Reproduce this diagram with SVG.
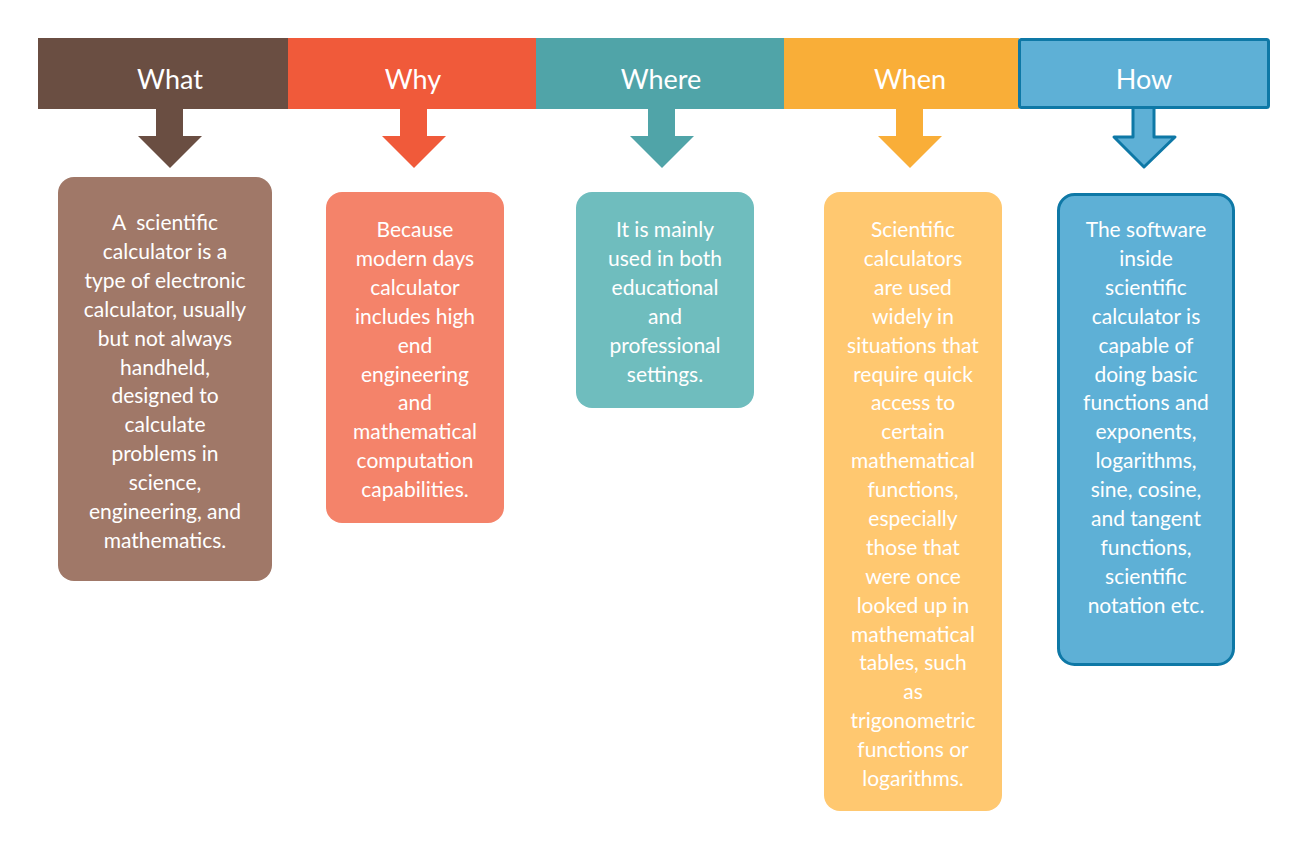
<svg xmlns="http://www.w3.org/2000/svg" width="1308" height="850" viewBox="0 0 1308 850">
<style>
.h{font-family:Lato,"Open Sans",sans-serif;font-size:27px;fill:#fff;text-anchor:middle}
.t{font-family:Lato,"Open Sans",sans-serif;font-size:21px;fill:#fff;text-anchor:middle}
</style>
<rect width="1308" height="850" fill="#fff"/>
<g id="connectors">
<path d="M156 108 V136 H138 L170 168 L202 136 H183 V108 Z" fill="#6a4e42"/>
<path d="M400 108 V136 H382 L414 168 L446 136 H427 V108 Z" fill="#f05a3a"/>
<path d="M648 108 V136 H630 L662 168 L694 136 H675 V108 Z" fill="#50a4a8"/>
<path d="M896 108 V136 H878 L910 168 L942 136 H923 V108 Z" fill="#f9ae38"/>
<path d="M1133 108 V137 H1114 L1144 167 L1175 137 H1154 V108" fill="#5eb0d6" stroke="#0e78a6" stroke-width="3" stroke-linejoin="round"/>
</g>
<g id="what">
<rect x="38" y="38" width="250" height="71" fill="#6a4e42"/>
<text class="h" x="170" y="89">What</text>
<rect x="58" y="177" width="214" height="404" rx="16" fill="#a07868"/>
<text class="t" x="165" y="230"><tspan x="165">A&#160; scientific</tspan><tspan x="165" dy="28.9">calculator is a</tspan><tspan x="165" dy="28.9">type of electronic</tspan><tspan x="165" dy="28.9">calculator, usually</tspan><tspan x="165" dy="28.9">but not always</tspan><tspan x="165" dy="28.9">handheld,</tspan><tspan x="165" dy="28.9">designed to</tspan><tspan x="165" dy="28.9">calculate</tspan><tspan x="165" dy="28.9">problems in</tspan><tspan x="165" dy="28.9">science,</tspan><tspan x="165" dy="28.9">engineering, and</tspan><tspan x="165" dy="28.9">mathematics.</tspan></text>
</g>
<g id="why">
<rect x="288" y="38" width="248" height="71" fill="#f05a3a"/>
<text class="h" x="413" y="89">Why</text>
<rect x="326" y="192" width="178" height="331" rx="16" fill="#f4836a"/>
<text class="t" x="415" y="237">Because<tspan x="415" dy="28.9">modern days</tspan><tspan x="415" dy="28.9">calculator</tspan><tspan x="415" dy="28.9">includes high</tspan><tspan x="415" dy="28.9">end</tspan><tspan x="415" dy="28.9">engineering</tspan><tspan x="415" dy="28.9">and</tspan><tspan x="415" dy="28.9">mathematical</tspan><tspan x="415" dy="28.9">computation</tspan><tspan x="415" dy="28.9">capabilities.</tspan></text>
</g>
<g id="where">
<rect x="536" y="38" width="248" height="71" fill="#50a4a8"/>
<text class="h" x="661" y="89">Where</text>
<rect x="576" y="192" width="178" height="216" rx="16" fill="#6fbdbe"/>
<text class="t" x="665" y="237">It is mainly<tspan x="665" dy="28.9">used in both</tspan><tspan x="665" dy="28.9">educational</tspan><tspan x="665" dy="28.9">and</tspan><tspan x="665" dy="28.9">professional</tspan><tspan x="665" dy="28.9">settings.</tspan></text>
</g>
<g id="when">
<rect x="784" y="38" width="235" height="71" fill="#f9ae38"/>
<text class="h" x="910" y="89">When</text>
<rect x="824" y="192" width="178" height="619" rx="16" fill="#ffc870"/>
<text class="t" x="913" y="237">Scientific<tspan x="913" dy="28.9">calculators</tspan><tspan x="913" dy="28.9">are used</tspan><tspan x="913" dy="28.9">widely in</tspan><tspan x="913" dy="28.9">situations that</tspan><tspan x="913" dy="28.9">require quick</tspan><tspan x="913" dy="28.9">access to</tspan><tspan x="913" dy="28.9">certain</tspan><tspan x="913" dy="28.9">mathematical</tspan><tspan x="913" dy="28.9">functions,</tspan><tspan x="913" dy="28.9">especially</tspan><tspan x="913" dy="28.9">those that</tspan><tspan x="913" dy="28.9">were once</tspan><tspan x="913" dy="28.9">looked up in</tspan><tspan x="913" dy="28.9">mathematical</tspan><tspan x="913" dy="28.9">tables, such</tspan><tspan x="913" dy="28.9">as</tspan><tspan x="913" dy="28.9">trigonometric</tspan><tspan x="913" dy="28.9">functions or</tspan><tspan x="913" dy="28.9">logarithms.</tspan></text>
</g>
<g id="how">
<rect x="1019.5" y="39.5" width="249" height="68" rx="2" fill="#5eb0d6" stroke="#0e78a6" stroke-width="3"/>
<text class="h" x="1144" y="89">How</text>
<rect x="1058.5" y="194.5" width="175" height="470" rx="16" fill="#5eb0d6" stroke="#0e78a6" stroke-width="3"/>
<text class="t" x="1146" y="237">The software<tspan x="1146" dy="28.9">inside</tspan><tspan x="1146" dy="28.9">scientific</tspan><tspan x="1146" dy="28.9">calculator is</tspan><tspan x="1146" dy="28.9">capable of</tspan><tspan x="1146" dy="28.9">doing basic</tspan><tspan x="1146" dy="28.9">functions and</tspan><tspan x="1146" dy="28.9">exponents,</tspan><tspan x="1146" dy="28.9">logarithms,</tspan><tspan x="1146" dy="28.9">sine, cosine,</tspan><tspan x="1146" dy="28.9">and tangent</tspan><tspan x="1146" dy="28.9">functions,</tspan><tspan x="1146" dy="28.9">scientific</tspan><tspan x="1146" dy="28.9">notation etc.</tspan></text>
</g>
</svg>
